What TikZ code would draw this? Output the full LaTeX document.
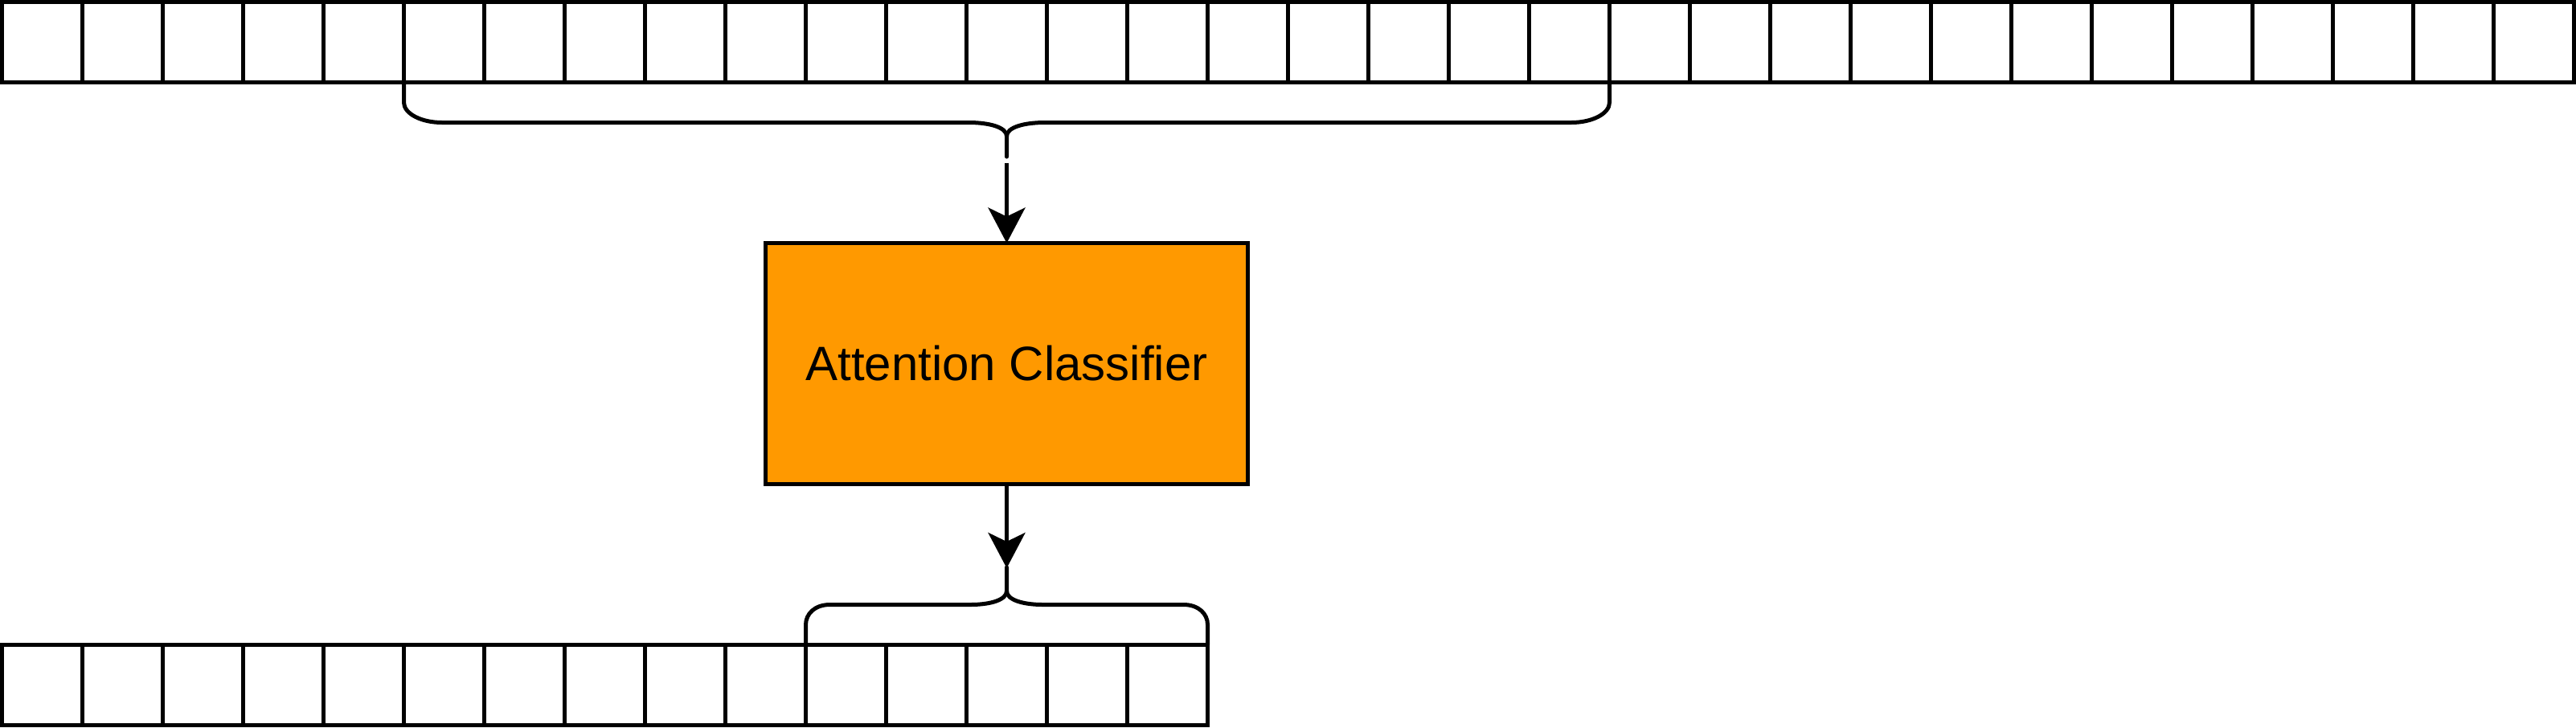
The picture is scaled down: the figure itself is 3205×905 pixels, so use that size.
\documentclass[tikz,border=0pt]{standalone}
\usepackage{fontspec}
\setmainfont{Liberation Sans}
\usetikzlibrary{arrows.meta}
\definecolor{orangefill}{HTML}{FF9900}
\begin{document}
\begin{tikzpicture}[x=0.1mm,y=-0.1mm,
  cell/.style={draw=black, line width=0.5mm, minimum width=10mm, minimum height=10mm, inner sep=0pt, outer sep=0pt, anchor=north west},
  clsbox/.style={draw=black, fill=orangefill, line width=0.5mm, minimum width=60mm, minimum height=30mm, inner sep=0pt, outer sep=0pt, font=\fontsize{17.07pt}{20pt}\selectfont},
  brace/.style={draw=black, line width=0.5mm, line cap=round},
  conn/.style={draw=black, line width=0.5mm, -{Stealth[length=4.4mm, width=4.6mm, inset=1.1mm]}}
]
\useasboundingbox (0,0) rectangle (3205,905);
% top row of 32 cells
\foreach \i in {0,...,31}{
  \node[cell] (t\i) at ({2.5+100*\i},2.5) {};
}
% bottom row of 15 cells
\foreach \i in {0,...,14}{
  \node[cell] (b\i) at ({2.5+100*\i},802.5) {};
}
% classifier box
\node[clsbox] (cls) at (1252.5,452.5) {Attention Classifier};
% top brace
\draw[brace] (t5.south west) -- (502.5,127.5) .. controls (502.5,141.3) and (523.8,152.5) .. (550,152.5)
  -- (1205,152.5) .. controls (1231.2,152.5) and (1252.5,158.5) .. (1252.5,169.5) -- (1252.5,195);
\draw[brace] (t19.south east) -- (2002.5,127.5) .. controls (2002.5,141.3) and (1981.2,152.5) .. (1955,152.5)
  -- (1300,152.5) .. controls (1273.8,152.5) and (1252.5,158.5) .. (1252.5,169.5);
\coordinate (tstart) at (1252.5,202.5);
% bottom brace
\draw[brace] (b10.north west) -- (1002.5,777.5) .. controls (1002.5,763.7) and (1014,752.5) .. (1032.5,752.5)
  -- (1207.5,752.5) .. controls (1232.3,752.5) and (1252.5,746.5) .. (1252.5,735.5) -- (1252.5,706);
\draw[brace] (b14.north east) -- (1502.5,777.5) .. controls (1502.5,763.7) and (1491,752.5) .. (1472.5,752.5)
  -- (1297.5,752.5) .. controls (1272.7,752.5) and (1252.5,746.5) .. (1252.5,735.5);
\coordinate (btip) at (1252.5,707);
% connectors
\draw[conn] (tstart) -- (cls.north);
\draw[conn] (cls.south) -- (btip);
\end{tikzpicture}
\end{document}
